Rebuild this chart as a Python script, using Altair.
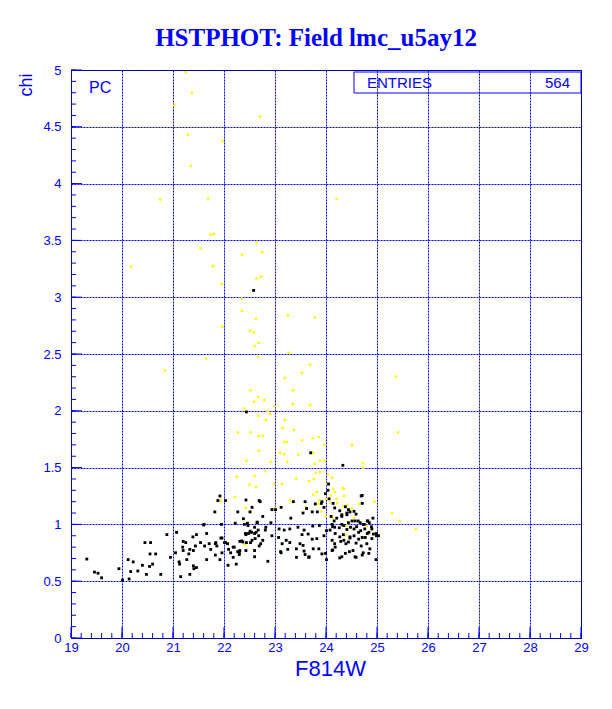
import altair as alt
import pandas as pd

BLUE = "#0000ff"

# ---- data ----
BLACK_F814W = [
    19.31, 19.46, 19.53, 19.60, 19.94, 20.01, 20.12, 20.17, 20.22, 20.14, 20.31, 20.40, 20.45, 20.56, 20.55,
    20.54, 20.66, 20.60, 20.48, 20.76, 20.88, 20.95, 21.07, 21.05, 21.12, 21.13, 21.15, 21.20, 21.25, 21.19,
    21.20, 21.27, 21.31, 21.33, 21.39, 21.40, 21.44, 21.46, 21.40, 21.46, 21.33, 21.41, 21.60, 21.62, 21.66,
    21.71, 21.74, 21.84, 21.86, 21.92, 21.82, 21.88, 21.92, 22.03, 21.96, 21.96, 22.01, 22.08, 22.07, 22.13,
    22.18, 22.24, 22.20, 22.30, 22.27, 22.31, 22.37, 22.38, 22.40, 22.31, 22.42, 22.44, 22.43, 22.48, 22.52,
    22.55, 22.60, 22.63, 22.65, 22.67, 22.69, 22.60, 22.61, 22.69, 22.46, 22.22, 22.47, 22.54,
    23.70, 24.33, 24.05, 22.43, 22.71, 23.36, 23.59, 23.01, 22.94, 23.12, 23.31, 22.51, 22.76, 23.55, 23.73,
    23.83, 23.62, 23.79, 23.91, 23.96, 24.04, 23.99, 24.06, 24.14, 24.27, 24.38, 24.44, 24.41, 24.55, 24.69,
    24.71, 24.21, 24.31, 24.57, 24.67, 24.75, 24.82, 24.12,
    21.61, 21.95, 22.65, 22.82, 22.92, 23.08, 23.18, 23.29, 23.45, 23.57, 23.74, 23.87, 24.08, 24.17, 24.35,
    24.48, 24.60, 24.76, 24.90,
    21.66, 21.54, 21.83, 21.94, 22.03, 22.09, 22.18, 22.27, 22.35, 22.43, 22.51, 22.55, 22.60, 22.68, 22.72,
    22.76, 22.81, 22.86, 22.94, 23.07, 23.14, 23.22, 23.29, 23.11, 23.25, 23.42, 23.49, 23.57, 23.65, 23.73,
    23.82, 23.86, 23.92, 23.96, 24.01, 24.12, 24.18, 24.27, 24.35, 24.39, 24.47, 24.55, 24.64, 24.71, 24.84,
    24.93, 25.03, 24.98, 24.57, 24.38, 23.99, 23.66, 23.42, 23.12, 22.60, 21.83, 22.30,
    24.71, 24.92, 24.81, 24.47, 24.59, 24.41, 24.31, 24.10, 24.16, 24.31, 24.44, 24.51, 24.63, 24.73, 24.85,
    24.89, 24.99, 24.81, 24.68, 24.55, 24.41, 24.26, 24.13, 24.18, 24.34, 24.47, 24.64, 24.77, 24.90, 24.80,
    24.59, 24.44, 24.29, 24.17, 24.69, 24.86, 24.53, 24.73, 24.13, 24.59, 24.27,
    23.92, 24.17, 24.99, 23.53, 23.55, 23.59, 23.75, 23.67, 24.12, 24.46, 24.84, 24.71, 24.31, 24.01,
    22.58, 22.44,
]
BLACK_CHI = [
    0.695, 0.58, 0.57, 0.53, 0.61, 0.51, 0.69, 0.585, 0.67, 0.52, 0.59, 0.64, 0.84, 0.84, 0.74,
    0.63, 0.74, 0.65, 0.56, 0.56, 0.91, 0.71, 0.93, 0.75, 0.67, 0.65, 0.54, 0.85, 0.84, 0.80,
    0.77, 0.69, 0.74, 0.78, 0.89, 0.77, 0.81, 0.91, 0.635, 0.62, 0.56, 0.61, 0.995, 0.81, 0.69,
    0.83, 0.78, 0.84, 0.81, 0.69, 1.11, 1.21, 1.25, 1.21, 0.75, 0.88, 0.84, 0.64, 0.83, 0.75,
    0.71, 0.65, 0.80, 0.75, 1.11, 0.85, 0.845, 1.05, 1.00, 0.77, 0.92, 0.84, 0.91, 0.92, 0.84,
    1.15, 0.975, 0.93, 1.02, 0.95, 0.81, 0.77, 0.875, 1.21, 1.01, 1.01, 0.99, 0.93,
    1.63, 1.52, 1.355, 1.215, 1.20, 1.20, 1.20, 1.13, 1.13, 1.15, 1.055, 1.11, 1.07, 1.10, 1.11,
    1.11, 1.14, 1.18, 1.185, 1.15, 1.30, 1.27, 1.225, 1.185, 1.12, 1.155, 1.13, 1.10, 1.115, 1.25,
    1.185, 1.055, 1.07, 1.03, 1.015, 1.00, 1.03, 1.00,
    1.00, 1.00, 1.015, 0.975, 1.015, 0.96, 0.95, 0.96, 0.975, 0.95, 0.985, 0.99, 0.95, 0.975, 0.99,
    0.975, 0.98, 0.96, 0.96,
    0.92, 0.84, 0.83, 0.88, 0.84, 0.78, 0.80, 0.76, 0.855, 0.77, 0.94, 0.86, 0.92, 0.90, 0.83,
    0.86, 0.95, 0.675, 0.90, 0.885, 0.83, 0.86, 0.84, 0.76, 0.78, 0.785, 0.83, 0.765, 0.915, 0.87,
    0.875, 0.785, 0.74, 0.90, 0.945, 0.86, 0.80, 0.89, 0.86, 0.83, 0.88, 0.90, 0.93, 0.885, 0.93,
    0.915, 0.90, 0.69, 0.715, 0.745, 0.745, 0.71, 0.71, 0.75, 0.715, 0.73, 0.735,
    1.255, 1.055, 1.03, 1.11, 1.09, 1.085, 1.085, 1.07, 1.03, 1.00, 1.015, 1.03, 1.03, 1.00, 1.015,
    0.98, 0.92, 0.92, 0.945, 0.96, 0.955, 0.97, 0.98, 0.92, 0.91, 0.89, 0.87, 0.885, 0.875, 0.83,
    0.835, 0.845, 0.85, 0.83, 0.81, 0.785, 0.77, 0.75, 0.775, 0.71, 0.705,
    1.20, 1.145, 0.90, 0.91, 0.815, 0.735, 0.785, 0.715, 0.77, 0.76, 0.745, 0.73, 0.715, 0.69,
    3.06, 1.99,
]
YELLOW_F814W = [
    21.25, 21.37, 21.03, 22.71, 21.29, 21.97, 21.35,
    20.75, 21.69, 24.21,
    21.74, 21.80, 21.54, 22.64, 22.75, 22.35, 21.78, 20.18,
    22.72, 22.64, 21.96,
    22.35, 22.35, 22.63, 23.25, 23.78, 21.97, 22.51, 22.59, 22.68, 22.60, 23.27, 22.67, 21.65, 20.84, 23.69,
    23.53, 23.19, 25.37,
    22.52, 23.35, 22.67, 22.79, 22.59, 23.35, 23.69, 22.99, 22.40, 22.86, 22.90, 22.67, 23.19, 22.82, 23.15,
    23.37, 22.27, 22.52, 25.41, 22.68, 22.76, 23.86, 23.74, 23.53, 23.18, 23.23, 23.97, 24.51,
    22.68, 23.10, 23.18, 23.46, 23.75, 22.44, 22.92, 23.24, 23.88, 23.97, 23.78, 24.72, 22.81, 24.72, 23.88,
    23.80, 24.04, 22.60, 22.25, 23.42, 24.12, 23.76, 22.98, 23.14, 22.63, 22.50, 23.67, 24.03, 24.05, 24.14,
    24.33, 23.82, 24.17, 24.35, 24.35, 23.75, 24.09, 24.00, 24.21, 24.08, 24.22, 23.29, 22.21, 21.94, 23.86,
    23.87, 24.34, 24.41, 24.65, 24.95, 24.51, 22.52, 22.43, 22.99, 23.61, 23.90, 24.13, 24.55, 25.29, 25.44,
    24.00, 24.42, 24.59, 24.80, 24.88, 24.90, 25.76, 24.38, 24.71, 22.41,
]
YELLOW_CHI = [
    4.98, 4.80, 4.69, 4.59, 4.43, 4.375, 4.155,
    3.86, 3.87, 3.865,
    3.55, 3.555, 3.43, 3.48, 3.395, 3.375, 3.275, 3.27,
    3.18, 3.165, 3.115,
    2.99, 2.88, 2.81, 2.84, 2.82, 2.74, 2.705, 2.69, 2.60, 2.57, 2.51, 2.475, 2.46, 2.355, 2.405,
    2.335, 2.29, 2.30,
    2.18, 2.18, 2.12, 2.095, 2.08, 2.06, 2.05, 2.04, 2.02, 2.00, 1.97, 1.955, 1.92, 1.92, 1.85,
    1.83, 1.81, 1.81, 1.81, 1.78, 1.78, 1.77, 1.76, 1.74, 1.725, 1.725, 1.70, 1.70,
    1.65, 1.63, 1.62, 1.615, 1.63, 1.56, 1.55, 1.55, 1.56, 1.56, 1.535, 1.54, 1.47, 1.50, 1.46,
    1.455, 1.44, 1.425, 1.42, 1.40, 1.41, 1.40, 1.36, 1.355, 1.33, 1.35, 1.38, 1.355, 1.36, 1.315,
    1.32, 1.285, 1.285, 1.31, 1.25, 1.26, 1.255, 1.226, 1.226, 1.19, 1.19, 1.21, 1.24, 1.21, 1.18,
    1.215, 1.16, 1.17, 1.18, 1.20, 1.14, 1.11, 1.145, 1.145, 1.15, 1.115, 1.055, 1.055, 1.10, 1.03,
    1.07, 0.99, 0.975, 0.985, 0.955, 0.97, 0.96, 0.905, 0.885, 0.82,
]

X_MAJOR = [19, 20, 21, 22, 23, 24, 25, 26, 27, 28, 29]
Y_MAJOR = [0, 0.5, 1, 1.5, 2, 2.5, 3, 3.5, 4, 4.5, 5]
X_MINOR = [round(19 + 0.2 * i, 1) for i in range(51)]
Y_MINOR = [round(0.1 * i, 1) for i in range(51)]

TITLE = "HSTPHOT: Field lmc_u5ay12"
STAT_LABEL = "ENTRIES"
STAT_VALUE = "564"
OPTION_LABEL = "PC"

W, H = 510, 568
FONT = "Liberation Sans"

black_df = pd.DataFrame({"F814W": BLACK_F814W, "chi": BLACK_CHI})
yellow_df = pd.DataFrame({"F814W": YELLOW_F814W, "chi": YELLOW_CHI})

xscale = alt.Scale(domain=[19, 29], nice=False, zero=False)
yscale = alt.Scale(domain=[0, 5], nice=False, zero=False)

main_x = alt.Axis(
    orient="bottom", values=X_MAJOR, grid=True, gridColor=BLUE, gridDash=[2, 1], gridWidth=1,
    gridOpacity=1, ticks=False, tickSize=0, domain=False, labelColor=BLUE, labelFont=FONT,
    labelFontSize=13, labelPadding=3, labelFlush=False, labelOverlap=False,
    title="F814W", titleColor=BLUE, titleFont=FONT, titleFontSize=22, titleFontWeight="normal",
    titleX=259, titleY=37, titleBaseline="alphabetic", titleAlign="center",
)
main_y = alt.Axis(
    orient="left", values=Y_MAJOR, grid=True, gridColor=BLUE, gridDash=[2, 1], gridWidth=1,
    gridOpacity=1, ticks=False, tickSize=0, domain=True, domainColor=BLUE, domainWidth=1,
    labelColor=BLUE, labelFont=FONT, labelFontSize=13, labelPadding=10, labelFlush=False,
    labelOverlap=False, format=".1~f",
    title="chi", titleColor=BLUE, titleFont=FONT, titleFontSize=18, titleFontWeight="normal",
    titleAngle=270, titleX=-45, titleY=3, titleAlign="right", titleBaseline="middle",
)

X_ENC = dict(scale=xscale, axis=main_x)
Y_ENC = dict(scale=yscale, axis=main_y)

# inward tick marks along the bottom and left frame edges
xt_minor = alt.Chart(pd.DataFrame({"F814W": X_MINOR})).mark_rule(color=BLUE, strokeWidth=1).encode(
    x=alt.X("F814W:Q", **X_ENC), y=alt.value(H), y2=alt.value(H - 5)
)
xt_major = alt.Chart(pd.DataFrame({"F814W": X_MAJOR})).mark_rule(color=BLUE, strokeWidth=1).encode(
    x=alt.X("F814W:Q", **X_ENC), y=alt.value(H), y2=alt.value(H - 11)
)
yt_minor = alt.Chart(pd.DataFrame({"chi": Y_MINOR})).mark_rule(color=BLUE, strokeWidth=1).encode(
    y=alt.Y("chi:Q", **Y_ENC), x=alt.value(0), x2=alt.value(5)
)
yt_major = alt.Chart(pd.DataFrame({"chi": Y_MAJOR})).mark_rule(color=BLUE, strokeWidth=1).encode(
    y=alt.Y("chi:Q", **Y_ENC), x=alt.value(0), x2=alt.value(11)
)

yellow = alt.Chart(yellow_df).mark_square(size=6, color="#ffff00", opacity=1).encode(
    x=alt.X("F814W:Q", **X_ENC),
    y=alt.Y("chi:Q", **Y_ENC),
)
black = alt.Chart(black_df).mark_square(size=8, color="#000000", opacity=1).encode(
    x=alt.X("F814W:Q", **X_ENC),
    y=alt.Y("chi:Q", **Y_ENC),
)

ann = pd.DataFrame({"t": [OPTION_LABEL]})
pc = alt.Chart(ann).mark_text(font=FONT, fontSize=16, color=BLUE, align="left", baseline="middle").encode(
    text="t:N", x=alt.value(18), y=alt.value(18)
)
box = alt.Chart(ann).mark_rect(fillOpacity=0, stroke=BLUE, strokeWidth=1).encode(
    x=alt.value(283), x2=alt.value(510), y=alt.value(2), y2=alt.value(23)
)
stat_l = alt.Chart(pd.DataFrame({"t": [STAT_LABEL]})).mark_text(
    font=FONT, fontSize=15, color=BLUE, align="left", baseline="middle"
).encode(text="t:N", x=alt.value(296), y=alt.value(13))
stat_v = alt.Chart(pd.DataFrame({"t": [STAT_VALUE]})).mark_text(
    font=FONT, fontSize=15, color=BLUE, align="right", baseline="middle"
).encode(text="t:N", x=alt.value(499), y=alt.value(13))

chart = alt.layer(
    xt_minor, xt_major, yt_minor, yt_major, yellow, black, box, pc, stat_l, stat_v
).properties(
    width=W, height=H,
    autosize=alt.AutoSizeParams(type="none"),
    padding={"left": 63, "top": 62, "right": 23, "bottom": 63},
    background="white",
    title=alt.TitleParams(
        TITLE, font="Liberation Serif", fontSize=25, fontWeight="bold", color=BLUE,
        anchor="middle", frame="group", dx=-10, dy=17, offset=10, baseline="alphabetic",
    ),
).configure_view(stroke="#000000", strokeWidth=1)

chart.save("out.html", embed_options={"renderer": "svg", "actions": False})
